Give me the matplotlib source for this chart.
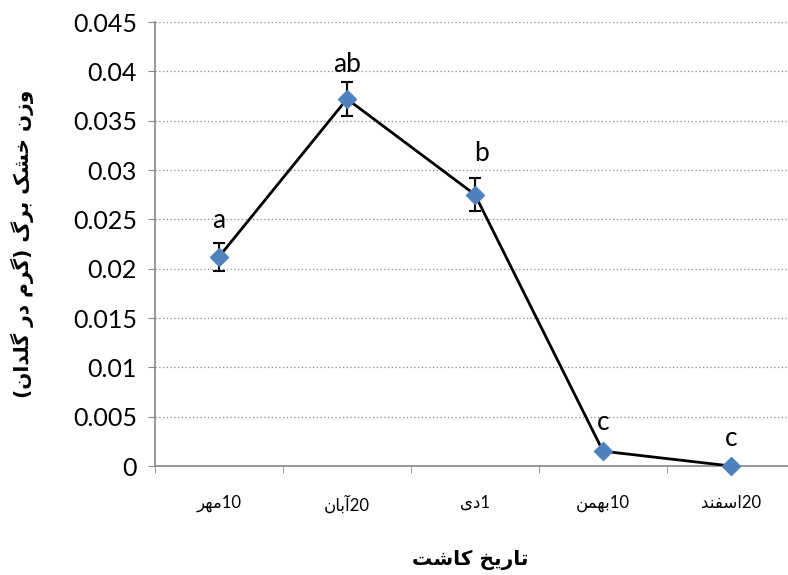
import matplotlib
matplotlib.use("Agg")
import matplotlib.pyplot as plt
from matplotlib.ticker import FixedLocator

# ---- data -------------------------------------------------------------
categories = ["10مهر", "20آبان", "1دی", "10بهمن", "20اسفند"]
leaf_dry_weight = [0.0212, 0.0372, 0.0275, 0.0015, 0.0]
std_error = [0.0014, 0.0017, 0.0017, 0.0002, 0.0]
group_letters = ["a", "ab", "b", "c", "c"]
y_ticks = [0, 0.005, 0.01, 0.015, 0.02, 0.025, 0.03, 0.035, 0.04, 0.045]

y_label = "وزن خشک برگ (گرم در گلدان)"
x_label = "تاریخ کاشت"

# label placement above each point (pixels: dx, dy)
letter_offsets = [(0, 24), (0, 22), (6, 29), (0, 16), (0, 15)]

# ---- minimal Persian shaping (presentation forms + RTL ordering) -------
FORMS = {
    'ا': ('\uFE8D', '\uFE8E', None, None),
    'آ': ('\uFE81', '\uFE82', None, None),
    'ب': ('\uFE8F', '\uFE90', '\uFE91', '\uFE92'),
    'ت': ('\uFE95', '\uFE96', '\uFE97', '\uFE98'),
    'خ': ('\uFEA5', '\uFEA6', '\uFEA7', '\uFEA8'),
    'د': ('\uFEA9', '\uFEAA', None, None),
    'ر': ('\uFEAD', '\uFEAE', None, None),
    'ز': ('\uFEAF', '\uFEB0', None, None),
    'س': ('\uFEB1', '\uFEB2', '\uFEB3', '\uFEB4'),
    'ش': ('\uFEB5', '\uFEB6', '\uFEB7', '\uFEB8'),
    'ف': ('\uFED1', '\uFED2', '\uFED3', '\uFED4'),
    'ل': ('\uFEDD', '\uFEDE', '\uFEDF', '\uFEE0'),
    'م': ('\uFEE1', '\uFEE2', '\uFEE3', '\uFEE4'),
    'ن': ('\uFEE5', '\uFEE6', '\uFEE7', '\uFEE8'),
    'ه': ('\uFEE9', '\uFEEA', '\uFEEB', '\uFEEC'),
    'و': ('\uFEED', '\uFEEE', None, None),
    '\u06A9': ('\uFB8E', '\uFB8F', '\uFB90', '\uFB91'),
    '\u06AF': ('\uFB92', '\uFB93', '\uFB94', '\uFB95'),
    '\u06CC': ('\uFBFC', '\uFBFD', '\uFBFE', '\uFBFF'),
}
MIRROR = {'(': ')', ')': '('}


def shape(word):
    out = []
    n = len(word)
    for i, ch in enumerate(word):
        f = FORMS.get(ch)
        if f is None:
            out.append(ch)
            continue
        prev = word[i - 1] if i > 0 else None
        nxt = word[i + 1] if i + 1 < n else None
        joins_prev = prev in FORMS and FORMS[prev][2] is not None
        joins_next = nxt in FORMS and f[2] is not None
        if joins_prev and joins_next:
            out.append(f[3])
        elif joins_prev:
            out.append(f[1])
        elif joins_next:
            out.append(f[2])
        else:
            out.append(f[0])
    return "".join(out)


def rtl(text):
    shaped = shape(text)
    runs = []
    for ch in shaped:
        is_digit = ch.isdigit() or ch == '.'
        if runs and runs[-1][0] == is_digit:
            runs[-1][1].append(ch)
        else:
            runs.append([is_digit, [ch]])
    pieces = []
    for is_digit, chars in reversed(runs):
        if is_digit:
            pieces.append("".join(chars))
        else:
            pieces.append("".join(MIRROR.get(c, c) for c in reversed(chars)))
    return "".join(pieces)


# ---- figure -------------------------------------------------------------
LATIN = ["Lato", "DejaVu Sans"]
GRAY = "#868686"

fig = plt.figure(figsize=(7.88, 5.75), dpi=100)
ax = fig.add_axes([155 / 788, 1 - 466 / 575, 640 / 788, 444 / 575])

x = list(range(len(categories)))
ax.plot(x, leaf_dry_weight, color="black", lw=2, zorder=3)
ax.errorbar(x, leaf_dry_weight, yerr=std_error, fmt="none", ecolor="black",
            elinewidth=1.5, capsize=4, capthick=1.5, zorder=4)
ax.plot(x, leaf_dry_weight, linestyle="none", marker="D", markersize=9,
        color="#4F81BD", markeredgecolor="#4F81BD", zorder=5, clip_on=False)

for xi, yi, lab, (dx, dy) in zip(x, leaf_dry_weight, group_letters, letter_offsets):
    ax.annotate(lab, (xi, yi), xytext=(dx * 0.72, dy * 0.72),
                textcoords="offset points", ha="center", va="bottom",
                fontsize=19, family=LATIN, color="black")

ax.set_xlim(-0.5, len(categories) - 0.5)
ax.set_ylim(0, 0.045)
ax.set_yticks(y_ticks)
ax.set_yticklabels([f"{v:g}" for v in y_ticks], family=LATIN, fontsize=18)

ax.set_xticks(x)
ax.set_xticklabels([rtl(c) for c in categories], family=LATIN, fontsize=12)
ax.xaxis.set_minor_locator(FixedLocator([i + 0.5 for i in range(-1, len(categories))]))
ax.tick_params(axis="x", which="major", length=0, pad=21)
ax.tick_params(axis="x", which="minor", length=5, color=GRAY, direction="out")
ax.tick_params(axis="y", which="major", length=5, color=GRAY, direction="out", pad=8)

ax.grid(axis="y", linestyle=(0, (1, 2)), color=GRAY, lw=0.9)
ax.set_axisbelow(True)
for side in ("top", "right"):
    ax.spines[side].set_visible(False)
for side in ("left", "bottom"):
    ax.spines[side].set_color(GRAY)
    ax.spines[side].set_linewidth(1.2)

ax.set_ylabel(rtl(y_label), family="DejaVu Sans", fontweight="bold",
              fontsize=14.5, va="center")
ax.yaxis.set_label_coords((22 - 155) / 640, 0.5)
fig.text(470 / 788, 1 - 560 / 575, rtl(x_label), family="DejaVu Sans",
         fontweight="bold", fontsize=14.5, ha="center", va="center")

fig.savefig("out.png", dpi=100)
